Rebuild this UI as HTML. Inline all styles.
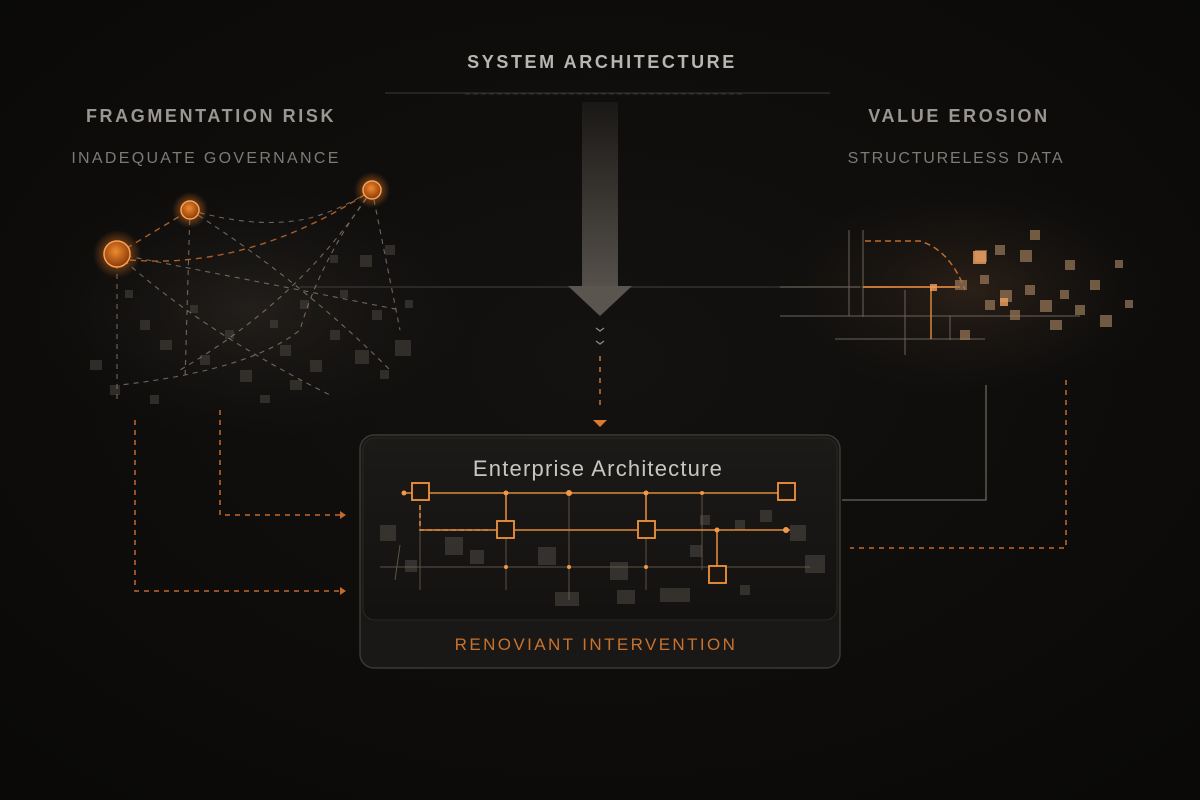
<!DOCTYPE html>
<html><head><meta charset="utf-8"><style>
html,body{margin:0;padding:0;background:#0e0d0c;}
svg{display:block}
text{font-family:"Liberation Sans",sans-serif;}
</style></head><body>
<svg width="1200" height="800" viewBox="0 0 1200 800" xmlns="http://www.w3.org/2000/svg">
<defs>
<radialGradient id="bg" cx="50%" cy="45%" r="70%"><stop offset="0" stop-color="#141210"/><stop offset="1" stop-color="#0a0908"/></radialGradient>
<radialGradient id="glow" cx="50%" cy="50%" r="50%"><stop offset="0" stop-color="#ff9a3c" stop-opacity=".7"/><stop offset="1" stop-color="#ff7a1a" stop-opacity="0"/></radialGradient>
<radialGradient id="orb" cx="45%" cy="40%" r="60%"><stop offset="0" stop-color="#f08a30"/><stop offset="1" stop-color="#8a3a08"/></radialGradient>
<radialGradient id="cloudL" cx="50%" cy="50%" r="50%"><stop offset="0" stop-color="#2a2622" stop-opacity=".7"/><stop offset="1" stop-color="#1a1715" stop-opacity="0"/></radialGradient>
<radialGradient id="cloudR" cx="45%" cy="50%" r="50%"><stop offset="0" stop-color="#3e2c1e" stop-opacity=".6"/><stop offset="1" stop-color="#1a1715" stop-opacity="0"/></radialGradient>
<linearGradient id="shaft" x1="0" y1="0" x2="0" y2="1"><stop offset="0" stop-color="#1a1816"/><stop offset="1" stop-color="#55504a"/></linearGradient>
<linearGradient id="panel" x1="0" y1="0" x2="0" y2="1"><stop offset="0" stop-color="#1c1a18"/><stop offset="1" stop-color="#141210"/></linearGradient>
</defs>
<rect width="1200" height="800" fill="url(#bg)"/>

<ellipse cx="250" cy="310" rx="220" ry="130" fill="url(#cloudL)"/>
<ellipse cx="990" cy="290" rx="200" ry="110" fill="url(#cloudR)"/>

<text x="602" y="68" text-anchor="middle" font-size="18" font-weight="bold" fill="#b9b6b1" letter-spacing="2.6">SYSTEM ARCHITECTURE</text>
<text x="211" y="122" text-anchor="middle" font-size="18" font-weight="bold" fill="#9a9691" letter-spacing="2.6">FRAGMENTATION RISK</text>
<text x="206" y="163" text-anchor="middle" font-size="16" fill="#7e7a75" letter-spacing="2.3">INADEQUATE GOVERNANCE</text>
<text x="959" y="122" text-anchor="middle" font-size="18" font-weight="bold" fill="#9a9691" letter-spacing="2.6">VALUE EROSION</text>
<text x="956" y="163" text-anchor="middle" font-size="16" fill="#7e7a75" letter-spacing="1.8">STRUCTURELESS DATA</text>

<line x1="385" y1="93" x2="830" y2="93" stroke="#2e2b28" stroke-width="1.5"/>
<line x1="465" y1="94" x2="745" y2="94" stroke="#3a3632" stroke-width="1" stroke-dasharray="5 3"/>
<line x1="300" y1="287" x2="890" y2="287" stroke="#34302c" stroke-width="1.5"/>
<rect x="582" y="102" width="36" height="185" fill="url(#shaft)"/>
<polygon points="568,286 632,286 600,316" fill="#5a554f"/>
<g stroke="#8c8782" stroke-width="1.3" fill="none"><polyline points="596,328 600,331 604,328"/><polyline points="596,341 600,344 604,341"/></g>
<line x1="600" y1="356" x2="600" y2="410" stroke="#c4763a" stroke-width="1.5" stroke-dasharray="5 6"/>
<polygon points="593,420 607,420 600,427" fill="#d97a30"/>

<g fill="#4a4640" opacity=".55">
<rect x="125" y="290" width="8" height="8"/><rect x="140" y="320" width="10" height="10"/><rect x="160" y="340" width="12" height="10"/><rect x="190" y="305" width="8" height="8"/><rect x="200" y="355" width="10" height="10"/><rect x="225" y="330" width="9" height="9"/><rect x="240" y="370" width="12" height="12"/><rect x="270" y="320" width="8" height="8"/><rect x="280" y="345" width="11" height="11"/><rect x="300" y="300" width="9" height="9"/><rect x="310" y="360" width="12" height="12"/><rect x="330" y="330" width="10" height="10"/><rect x="340" y="290" width="8" height="8"/><rect x="355" y="350" width="14" height="14"/><rect x="372" y="310" width="10" height="10"/><rect x="380" y="370" width="9" height="9"/><rect x="395" y="340" width="16" height="16"/><rect x="90" y="360" width="12" height="10"/><rect x="110" y="385" width="10" height="10"/><rect x="150" y="395" width="9" height="9"/><rect x="260" y="395" width="10" height="8"/><rect x="290" y="380" width="12" height="10"/><rect x="405" y="300" width="8" height="8"/><rect x="360" y="255" width="12" height="12"/><rect x="330" y="255" width="8" height="8"/><rect x="385" y="245" width="10" height="10"/>
</g>
<g fill="none" stroke="#9a8878" stroke-width="1.1" stroke-dasharray="5 5" opacity=".7">
<path d="M117 254 Q250 280 400 310"/>
<path d="M117 254 Q200 330 330 395"/>
<path d="M117 254 L117 400"/>
<path d="M190 210 L185 380"/>
<path d="M190 210 Q300 280 390 370"/>
<path d="M372 190 Q320 260 300 330 Q250 370 120 385"/>
<path d="M372 190 Q300 300 180 370"/>
<path d="M372 190 L400 330"/>
<path d="M190 210 Q260 230 310 218 Q340 210 372 190"/>
</g>
<g fill="none" stroke="#c46a2c" stroke-width="1.4" stroke-dasharray="6 5" opacity=".85">
<path d="M117 254 L190 210"/>
<path d="M130 260 Q250 270 372 190"/>
</g>
<circle cx="117" cy="254" r="24" fill="url(#glow)"/><circle cx="117" cy="254" r="13" fill="url(#orb)" stroke="#ffa050" stroke-width="1.5"/>
<circle cx="190" cy="210" r="18" fill="url(#glow)"/><circle cx="190" cy="210" r="9" fill="url(#orb)" stroke="#ffa050" stroke-width="1.5"/>
<circle cx="372" cy="190" r="18" fill="url(#glow)"/><circle cx="372" cy="190" r="9" fill="url(#orb)" stroke="#ffa050" stroke-width="1.5"/>

<g fill="none" stroke="#6a635b" stroke-width="1">
<line x1="780" y1="287" x2="860" y2="287"/><line x1="780" y1="316" x2="960" y2="316"/><line x1="830" y1="316" x2="1080" y2="316"/>
<line x1="849" y1="230" x2="849" y2="316"/><line x1="863" y1="230" x2="863" y2="317"/><line x1="835" y1="339" x2="985" y2="339"/>
<line x1="905" y1="290" x2="905" y2="355"/><line x1="950" y1="316" x2="950" y2="340"/>
</g>
<line x1="863" y1="287" x2="960" y2="287" stroke="#d8843a" stroke-width="1.8"/>
<line x1="931" y1="287" x2="931" y2="339" stroke="#d8843a" stroke-width="1.5"/>
<path d="M865 241 L920 241 Q950 250 965 290" fill="none" stroke="#c46a2c" stroke-width="1.5" stroke-dasharray="6 4"/>
<g fill="#9a7a5a" opacity=".7">
<rect x="975" y="250" width="12" height="12"/><rect x="995" y="245" width="10" height="10"/><rect x="1020" y="250" width="12" height="12"/><rect x="955" y="280" width="12" height="10"/><rect x="980" y="275" width="9" height="9"/><rect x="1000" y="290" width="12" height="12"/><rect x="1025" y="285" width="10" height="10"/><rect x="1040" y="300" width="12" height="12"/><rect x="1060" y="290" width="9" height="9"/><rect x="985" y="300" width="10" height="10"/><rect x="1010" y="310" width="10" height="10"/><rect x="1050" y="320" width="12" height="10"/><rect x="1075" y="305" width="10" height="10"/><rect x="1090" y="280" width="10" height="10"/><rect x="1100" y="315" width="12" height="12"/><rect x="1030" y="230" width="10" height="10"/><rect x="1065" y="260" width="10" height="10"/><rect x="1115" y="260" width="8" height="8"/><rect x="960" y="330" width="10" height="10"/><rect x="1125" y="300" width="8" height="8"/>
</g>
<g fill="#f0a060" opacity=".8"><rect x="973" y="251" width="13" height="13"/><rect x="930" y="284" width="7" height="7"/><rect x="1000" y="298" width="8" height="8"/></g>

<path d="M220 410 L220 515 L340 515" fill="none" stroke="#c46a2c" stroke-width="1.5" stroke-dasharray="5 5"/>
<polygon points="340,511 346,515 340,519" fill="#c46a2c"/>
<path d="M135 420 L135 591 L340 591" fill="none" stroke="#c46a2c" stroke-width="1.5" stroke-dasharray="5 5"/>
<polygon points="340,587 346,591 340,595" fill="#c46a2c"/>
<path d="M986 385 L986 500 L842 500" fill="none" stroke="#6a635b" stroke-width="1.3"/>
<path d="M1066 380 L1066 548 L850 548" fill="none" stroke="#c46a2c" stroke-width="1.5" stroke-dasharray="5 5"/>

<rect x="360" y="435" width="480" height="233" rx="14" fill="#1a1816" stroke="#3c3833" stroke-width="1.5"/>
<rect x="363" y="438" width="474" height="182" rx="12" fill="url(#panel)" stroke="#2a2724" stroke-width="1"/>
<text x="598" y="476" text-anchor="middle" font-size="22" fill="#c9c6c1" letter-spacing="1.2">Enterprise Architecture</text>
<g fill="#4a4540" opacity=".6">
<rect x="380" y="525" width="16" height="16"/><rect x="445" y="537" width="18" height="18"/><rect x="470" y="550" width="14" height="14"/><rect x="538" y="547" width="18" height="18"/><rect x="610" y="562" width="18" height="18"/><rect x="555" y="592" width="24" height="14"/><rect x="617" y="590" width="18" height="14"/><rect x="660" y="588" width="30" height="14"/><rect x="700" y="515" width="10" height="10"/><rect x="735" y="520" width="10" height="10"/><rect x="760" y="510" width="12" height="12"/><rect x="790" y="525" width="16" height="16"/><rect x="805" y="555" width="20" height="18"/><rect x="690" y="545" width="12" height="12"/><rect x="405" y="560" width="12" height="12"/><rect x="740" y="585" width="10" height="10"/>
</g>
<g stroke="#7a6a5a" stroke-width="1" fill="none" opacity=".7">
<line x1="380" y1="567" x2="810" y2="567"/><line x1="420" y1="505" x2="420" y2="590"/><line x1="506" y1="530" x2="506" y2="590"/><line x1="569" y1="494" x2="569" y2="600"/><line x1="646" y1="530" x2="646" y2="590"/><line x1="702" y1="494" x2="702" y2="570"/><line x1="395" y1="580" x2="400" y2="545"/>
</g>
<g stroke="#e08838" stroke-width="1.6" fill="none">
<line x1="404" y1="493" x2="780" y2="493"/>
<line x1="420" y1="530" x2="497" y2="530"/><line x1="515" y1="530" x2="637" y2="530"/><line x1="656" y1="530" x2="790" y2="530"/>
<line x1="506" y1="493" x2="506" y2="521"/><line x1="646" y1="493" x2="646" y2="521"/>
<line x1="717" y1="530" x2="717" y2="566"/>
</g>
<path d="M420 505 L420 530 L490 530" fill="none" stroke="#e08838" stroke-width="1.6" stroke-dasharray="5 3"/>
<g fill="#f09a48"><circle cx="404" cy="493" r="2.5"/><circle cx="506" cy="493" r="2.5"/><circle cx="569" cy="493" r="3"/><circle cx="646" cy="493" r="2.5"/><circle cx="702" cy="493" r="2"/><circle cx="717" cy="530" r="2.5"/><circle cx="786" cy="530" r="3"/><circle cx="506" cy="567" r="2"/><circle cx="569" cy="567" r="2"/><circle cx="646" cy="567" r="2"/></g>
<g fill="#1c1510" stroke="#f0943e" stroke-width="1.8">
<rect x="412" y="483" width="17" height="17"/><rect x="778" y="483" width="17" height="17"/>
<rect x="497" y="521" width="17" height="17"/><rect x="638" y="521" width="17" height="17"/>
<rect x="709" y="566" width="17" height="17"/>
</g>
<text x="596" y="650" text-anchor="middle" font-size="17" fill="#c8722e" letter-spacing="2.4">RENOVIANT INTERVENTION</text>
</svg>
</body></html>
